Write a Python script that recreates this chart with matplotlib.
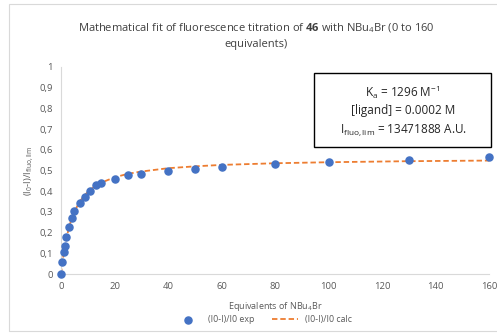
import matplotlib
matplotlib.use('Agg')
import matplotlib.pyplot as plt
from matplotlib.patches import Rectangle

plt.rcParams['font.family'] = ['Open Sans', 'DejaVu Sans']
plt.rcParams['mathtext.fontset'] = 'custom'
plt.rcParams['mathtext.rm'] = 'Open Sans'
plt.rcParams['mathtext.it'] = 'Open Sans'
plt.rcParams['mathtext.bf'] = 'Open Sans:bold'

# Data
equivalents = [0, 0.5, 1, 1.5, 2, 3, 4, 5, 7, 9, 11, 13, 15, 20, 25, 30,
               40, 50, 60, 80, 100, 130, 160]
ratio_exp = [0, 0.057, 0.106, 0.137, 0.178, 0.226, 0.27, 0.303, 0.342, 0.372,
             0.40, 0.43, 0.442, 0.458, 0.476, 0.482, 0.50, 0.508, 0.518,
             0.532, 0.542, 0.552, 0.566]
ratio_calc = [0, 0.053, 0.099, 0.138, 0.171, 0.226, 0.268, 0.301, 0.350,
              0.383, 0.408, 0.426, 0.441, 0.467, 0.484, 0.495, 0.511, 0.520,
              0.527, 0.535, 0.540, 0.545, 0.548]

xticks = [0, 20, 40, 60, 80, 100, 120, 140, 160]
yticks = [0, 0.1, 0.2, 0.3, 0.4, 0.5, 0.6, 0.7, 0.8, 0.9, 1]
ytick_labels = ['0', '0,1', '0,2', '0,3', '0,4', '0,5', '0,6', '0,7', '0,8', '0,9', '1']

fit_lines = ['K$_a$ = 1296 M$^{-1}$',
             '[ligand] = 0.0002 M',
             'I$_{fluo,lim}$ = 13471888 A.U.']

blue = '#4472C4'
orange = '#ED7D31'
grey_text = '#595959'

fig = plt.figure(figsize=(4.97, 3.33), dpi=100)
ax = fig.add_axes([61 / 497, 1 - 274 / 333, 428 / 497, (274 - 67) / 333])

# chart area border
fig.patches.append(Rectangle((9 / 497, 0.005), 0.99, 1 - 4 / 333 - 0.005,
                             transform=fig.transFigure, fill=False,
                             edgecolor='#D9D9D9', linewidth=0.8))

ax.plot(equivalents, ratio_calc, linestyle=(0, (3, 1.6)), color=orange,
        linewidth=1.3, label='(I0-I)/I0 calc', zorder=2)
ax.scatter(equivalents, ratio_exp, s=26, color=blue, label='(I0-I)/I0 exp',
           zorder=3, clip_on=False)

ax.set_xlim(0, 160)
ax.set_ylim(0, 1)
ax.set_xticks(xticks)
ax.set_yticks(yticks)
ax.set_yticklabels(ytick_labels)
ax.tick_params(length=0, labelsize=6.8, colors=grey_text, pad=6)
for side in ['top', 'right']:
    ax.spines[side].set_visible(False)
for side in ['left', 'bottom']:
    ax.spines[side].set_color('#D9D9D9')
    ax.spines[side].set_linewidth(0.8)

ax.set_xlabel('Equivalents of NBu$_4$Br', fontsize=6.5, color=grey_text, labelpad=6)
ax.set_ylabel('(I$_0$-I)/I$_{fluo,lim}$', fontsize=6.8, color=grey_text, labelpad=2)

fig.text(0.515, 0.915, 'Mathematical fit of fluorescence titration of '
         r'$\mathbf{46}$ with NBu$_4$Br (0 to 160', ha='center', va='center',
         fontsize=8, color='#404040')
fig.text(0.515, 0.865, 'equivalents)', ha='center', va='center',
         fontsize=8, color='#404040')

# fit parameter box
fig.patches.append(Rectangle((314 / 497, 1 - 147 / 333), 177 / 497, 74 / 333,
                             transform=fig.transFigure, fill=True,
                             facecolor='white', edgecolor='black',
                             linewidth=1.0, zorder=5))
for i, line in enumerate(fit_lines):
    fig.text(403 / 497, 1 - (92 + i * 19) / 333, line, ha='center',
             va='center', fontsize=8.5, color='#262626', zorder=6)

handles, labels = ax.get_legend_handles_labels()
fig.legend(handles[::-1], labels[::-1], loc='center', ncol=2,
           bbox_to_anchor=(0.53, 0.04), frameon=False, fontsize=6.3,
           labelcolor=grey_text, handlelength=3, columnspacing=2.0)

fig.savefig('out.png', dpi=100)
